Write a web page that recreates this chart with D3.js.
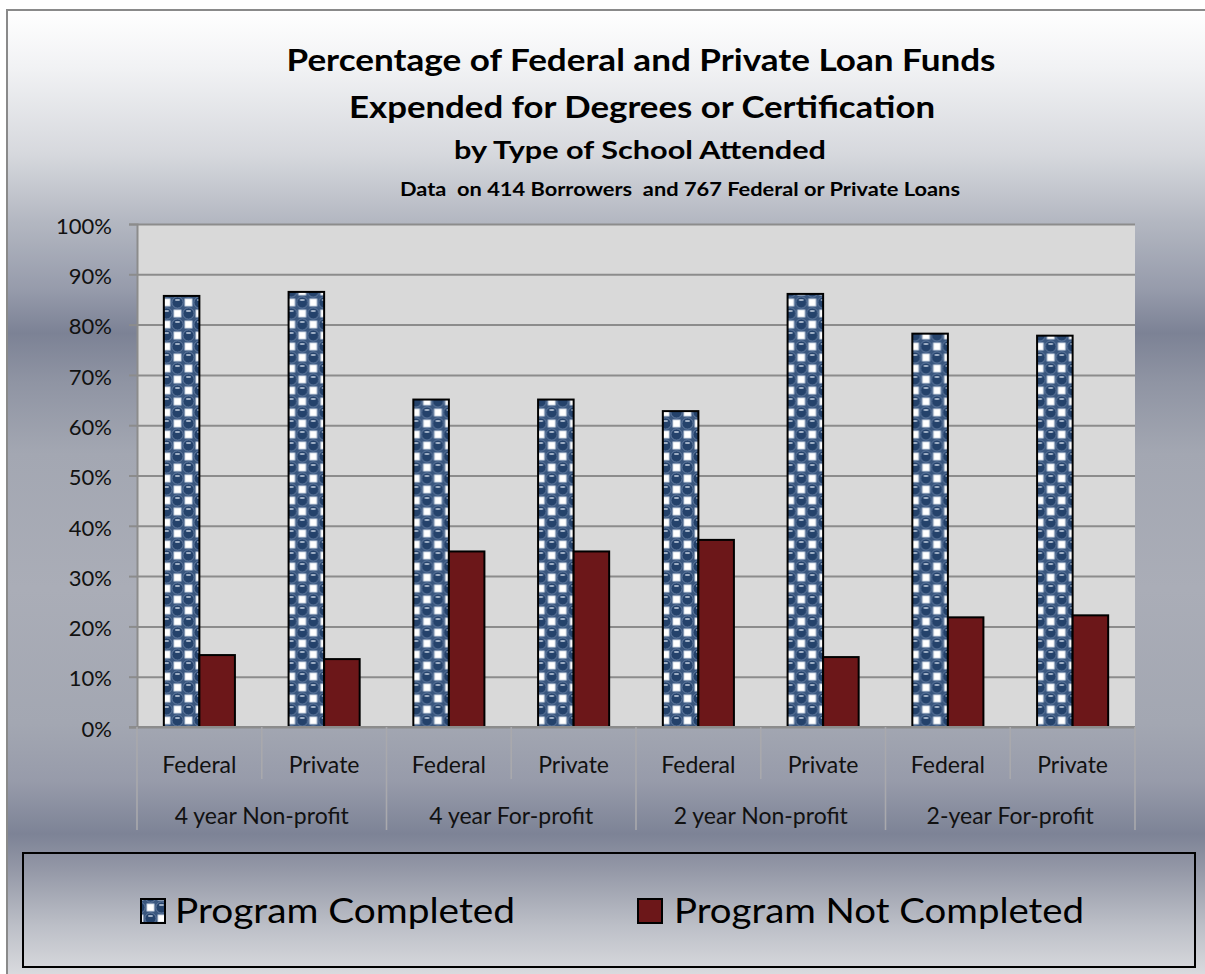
<!DOCTYPE html>
<html>
<head>
<meta charset="utf-8">
<script src="https://cdn.jsdelivr.net/npm/d3@7"></script>
<style>
  html, body { margin: 0; padding: 0; background: #ffffff; }
  svg { display: block; font-family: Lato, "Open Sans", "Liberation Sans", sans-serif; }
</style>
</head>
<body>
<svg id="chart" width="1205" height="974"></svg>
<script>
// ---- data ----
const schoolTypes = ["4 year Non-profit", "4 year For-profit", "2 year Non-profit", "2-year For-profit"];
const loanTypes = ["Federal", "Private"];
const seriesNames = ["Program Completed", "Program Not Completed"];
// share of loan funds, one value per school type x loan type (in order)
const completed    = [0.857, 0.865, 0.651, 0.651, 0.628, 0.861, 0.782, 0.778];
const notCompleted = [0.143, 0.135, 0.349, 0.349, 0.372, 0.139, 0.218, 0.222];
const yTickValues = [0, 0.1, 0.2, 0.3, 0.4, 0.5, 0.6, 0.7, 0.8, 0.9, 1.0];
const titleLines = [
  "Percentage of Federal and Private Loan Funds",
  "Expended for Degrees or Certification",
  "by Type of School Attended",
  "Data  on 414 Borrowers  and 767 Federal or Private Loans"
];

// ---- layout ----
const W = 1205, H = 974;
const plot = { left: 137, right: 1135, top: 224, bottom: 727 };
const gapWidth = 1.51;          // gap between clusters, as a fraction of one bar
const fillColors = { "Program Not Completed": "#6c1719" };

const rows = schoolTypes.flatMap((s, si) => loanTypes.map((l, li) => {
  const i = si * loanTypes.length + li;
  return { key: s + "|" + l, school: s, loan: l, values: [completed[i], notCompleted[i]] };
}));

const svg = d3.select("#chart");
const defs = svg.append("defs");

// background gradient of the chart area
const bg = defs.append("linearGradient").attr("id", "bgGrad")
  .attr("gradientUnits", "userSpaceOnUse").attr("x1", 0).attr("x2", 0).attr("y1", 10).attr("y2", H);
[
  [0.00, "#ffffff"], [0.06, "#f1f2f4"], [0.15, "#d6d8dd"], [0.22, "#b3b7c1"],
  [0.29, "#969bab"], [0.335, "#7c8295"], [0.385, "#8f94a3"], [0.46, "#a3a7b2"],
  [0.60, "#aaadb7"], [0.74, "#a3a7b2"], [0.80, "#979baa"], [0.855, "#7d8396"],
  [0.89, "#9397a6"], [0.95, "#bcbfc7"], [1.00, "#d9dade"]
].forEach(([o, c]) => bg.append("stop").attr("offset", o).attr("stop-color", c));

// checkered ball fill for the completed series (22px tile, 11px cells)
const T = 22, C = 11;
const pat = defs.append("pattern").attr("id", "dots")
  .attr("patternUnits", "userSpaceOnUse").attr("width", T).attr("height", T)
  .attr("x", 2).attr("y", 0);
pat.append("rect").attr("width", T).attr("height", T).attr("fill", "#3a577f");
const dark = "#24426b";
const ballCentres = [[C / 2, C / 2], [C * 1.5, C * 1.5]];
const wraps = [];
ballCentres.forEach(([cx, cy]) => {
  [-T, 0, T].forEach(dx => [-T, 0, T].forEach(dy => wraps.push([cx + dx, cy + dy])));
});
wraps.forEach(([cx, cy]) => {
  pat.append("circle").attr("cx", cx).attr("cy", cy).attr("r", 5.6)
    .attr("fill", dark).attr("stroke", "#6e87aa").attr("stroke-width", 0.8);
  pat.append("rect").attr("x", cx - 2.4).attr("y", cy - 3.2).attr("width", 4.8).attr("height", 1.4)
    .attr("rx", 0.7).attr("fill", "#c7d3e3");
});
[[C * 1.5, C / 2], [C / 2, C * 1.5]].forEach(([cx, cy]) => {
  pat.append("rect").attr("x", cx - 3.6).attr("y", cy - 3.6).attr("width", 7.2).attr("height", 7.2)
    .attr("fill", "#ffffff").attr("stroke", "#b9c6d8").attr("stroke-width", 0.8);
});
fillColors["Program Completed"] = "url(#dots)";

// chart background + frame
svg.append("rect").attr("x", 7).attr("y", 10).attr("width", W).attr("height", H)
  .attr("fill", "url(#bgGrad)").attr("stroke", "#8a8a8a").attr("stroke-width", 2);

// ---- scales ----
const x0 = d3.scaleBand().domain(rows.map(d => d.key)).range([plot.left, plot.right]);
const xg = d3.scaleBand().domain(schoolTypes).range([plot.left, plot.right]);
const barW = x0.bandwidth() / (2 + gapWidth);
const x1 = d3.scaleBand().domain(seriesNames)
  .range([barW * gapWidth / 2, barW * gapWidth / 2 + 2 * barW]);
const y = d3.scaleLinear().domain([0, 1]).range([plot.bottom, plot.top]);

// plot area
svg.append("rect").attr("x", plot.left).attr("y", plot.top)
  .attr("width", plot.right - plot.left).attr("height", plot.bottom - plot.top)
  .attr("fill", "#d9d9d9");

// gridlines
svg.append("g").attr("transform", `translate(${plot.left},0)`)
  .call(d3.axisLeft(y).tickValues(yTickValues).tickSize(-(plot.right - plot.left)).tickFormat(""))
  .call(g => g.select(".domain").remove())
  .call(g => g.selectAll("line").attr("stroke", "#8c8c8c").attr("stroke-width", 2));

// y axis
svg.append("g").attr("transform", `translate(${plot.left},0)`)
  .call(d3.axisLeft(y).tickValues(yTickValues).tickSize(8).tickPadding(17).tickFormat(d3.format(".0%")))
  .call(g => g.select(".domain").attr("stroke", "#8c8c8c").attr("stroke-width", 2))
  .call(g => g.selectAll("line").attr("stroke", "#8c8c8c").attr("stroke-width", 2))
  .call(g => g.selectAll("text").attr("font-size", 22).attr("fill", "#111")
    .attr("font-family", "Lato, sans-serif").attr("dy", "0.42em"));

// bars
const cluster = svg.append("g").selectAll("g").data(rows).join("g")
  .attr("transform", d => `translate(${x0(d.key)},0)`);
cluster.selectAll("rect")
  .data(d => seriesNames.map((s, i) => ({ series: s, value: d.values[i] })))
  .join("rect")
  .attr("x", d => x1(d.series))
  .attr("y", d => y(d.value))
  .attr("width", x1.bandwidth())
  .attr("height", d => y(0) - y(d.value))
  .attr("fill", d => fillColors[d.series])
  .attr("stroke", "#000").attr("stroke-width", 2);

// category axis line
svg.append("line").attr("x1", plot.left - 8).attr("x2", plot.right)
  .attr("y1", y(0)).attr("y2", y(0)).attr("stroke", "#8c8c8c").attr("stroke-width", 2);

// category separators (short between loan types, long between school types)
const sepX = rows.map(d => x0(d.key)).concat([plot.right]);
svg.append("g").selectAll("line").data(sepX).join("line")
  .attr("x1", d => d).attr("x2", d => d)
  .attr("y1", y(0))
  .attr("y2", (d, i) => i % loanTypes.length === 0 ? 830 : 779)
  .attr("stroke", "#a9a9ad").attr("stroke-width", 1.6);

// category labels
svg.append("g").selectAll("text").data(rows).join("text")
  .attr("x", d => x0(d.key) + x0.bandwidth() / 2)
  .attr("y", 773)
  .attr("text-anchor", "middle").attr("font-size", 23).attr("fill", "#111")
  .text(d => d.loan);
svg.append("g").selectAll("text").data(schoolTypes).join("text")
  .attr("x", d => xg(d) + xg.bandwidth() / 2)
  .attr("y", 824)
  .attr("text-anchor", "middle").attr("font-size", 23).attr("fill", "#111")
  .text(d => d);

// title
const titleSpec = [
  { y: 71, size: 31, cx: 641, len: 709 },
  { y: 118, size: 31, cx: 642, len: 586 },
  { y: 159, size: 24, cx: 640, len: 372 },
  { y: 196, size: 18, cx: 680, len: 560 }
];
svg.append("g").selectAll("text").data(titleLines).join("text")
  .attr("x", (d, i) => titleSpec[i].cx)
  .attr("y", (d, i) => titleSpec[i].y)
  .attr("text-anchor", "middle")
  .attr("font-weight", "bold")
  .attr("font-size", (d, i) => titleSpec[i].size)
  .attr("textLength", (d, i) => titleSpec[i].len)
  .attr("lengthAdjust", "spacingAndGlyphs")
  .attr("fill", "#000")
  .style("white-space", "pre")
  .text(d => d);

// legend
const legend = svg.append("g");
legend.append("rect").attr("x", 23).attr("y", 853).attr("width", 1172).attr("height", 114)
  .attr("fill", "none").attr("stroke", "#000").attr("stroke-width", 2);
const legendSpec = [
  { swatchX: 141, textX: 175, len: 340 },
  { swatchX: 638, textX: 674, len: 410 }
];
const items = legend.selectAll("g.item").data(seriesNames).join("g").attr("class", "item");
items.append("rect")
  .attr("x", (d, i) => legendSpec[i].swatchX).attr("y", 899)
  .attr("width", 24).attr("height", 24)
  .attr("fill", d => fillColors[d]).attr("stroke", "#000").attr("stroke-width", 2);
items.append("text")
  .attr("x", (d, i) => legendSpec[i].textX).attr("y", 923)
  .attr("font-size", 34).attr("fill", "#000")
  .attr("textLength", (d, i) => legendSpec[i].len)
  .attr("lengthAdjust", "spacingAndGlyphs")
  .text(d => d);
</script>
</body>
</html>
